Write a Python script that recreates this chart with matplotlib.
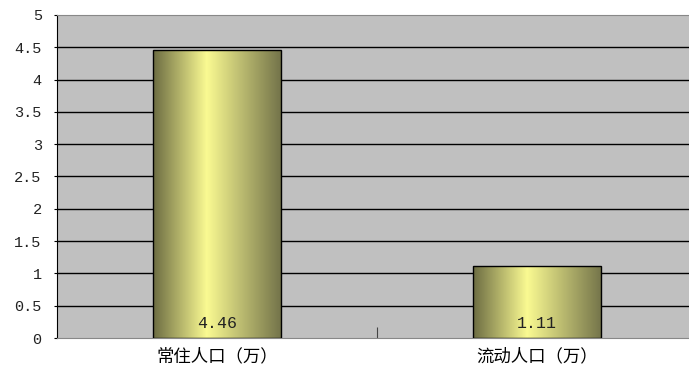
import matplotlib
matplotlib.use("Agg")
import matplotlib.pyplot as plt
import numpy as np
from matplotlib.colors import LinearSegmentedColormap

plt.rcParams['font.family'] = ['Noto Sans CJK SC', 'DejaVu Sans']

categories = ["常住人口（万）", "流动人口（万）"]
values = [4.46, 1.11]
value_labels = ["4.46", "1.11"]
yticks = [0, 0.5, 1, 1.5, 2, 2.5, 3, 3.5, 4, 4.5, 5]
ytick_labels = ["0", "0.5", "1", "1.5", "2", "2.5", "3", "3.5", "4", "4.5", "5"]

NUM_FONT = "Liberation Mono"
BAR_W = 0.4

fig = plt.figure(figsize=(6.89, 3.72), dpi=100)
ax = fig.add_axes([57 / 689, 1 - 338 / 372, 632 / 689, 323 / 372])
ax.set_facecolor("#c0c0c0")

ax.set_xlim(-0.5, 1.475)
ax.set_ylim(0, 5)

for y in yticks[1:-1]:
    ax.axhline(y, color="black", lw=1.0, zorder=1)

# olive -> pale yellow -> olive gradient across each bar
cmap = LinearSegmentedColormap.from_list(
    "olive", [(0.0, "#6c6c42"), (0.42, "#fafa92"), (1.0, "#74744a")])
grad = np.linspace(0, 1, 256).reshape(1, -1)

x = np.arange(len(categories))
bars = ax.bar(x, values, width=BAR_W, facecolor="none", edgecolor="black",
              lw=1.0, zorder=3)
for b in bars:
    im = ax.imshow(grad, cmap=cmap, aspect="auto", zorder=2,
                   extent=[b.get_x(), b.get_x() + b.get_width(), 0, b.get_height()])
    im.set_clip_path(b)

for xi, lab in zip(x, value_labels):
    ax.text(xi, 0.23, lab, ha="center", va="center", fontsize=12,
            family=NUM_FONT, color="#222222", zorder=4)

ax.set_xticks([0.5])
ax.set_xticklabels([])
ax.tick_params(axis="x", direction="in", length=8, color="#444444")
for xi, c in zip(x, categories):
    ax.text(xi, -0.28, c, ha="center", va="center", fontsize=12.5,
            transform=ax.transData, clip_on=False)

ax.set_yticks(yticks)
ax.set_yticklabels(ytick_labels, family=NUM_FONT, fontsize=11, color="#222222")
ax.tick_params(axis="y", direction="out", length=2, pad=9)

ax.spines["left"].set_color("black")
ax.spines["top"].set_color("#888888")
ax.spines["bottom"].set_color("#888888")
ax.spines["right"].set_visible(False)

fig.savefig("out.png", dpi=100, facecolor="white")
